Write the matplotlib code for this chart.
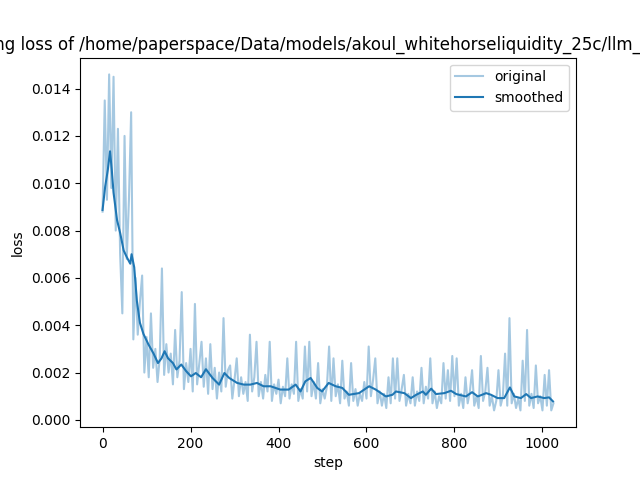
import matplotlib
matplotlib.use("Agg")
import matplotlib.pyplot as plt

save_dir = "/home/paperspace/Data/models/akoul_whitehorseliquidity_25c/llm_outputs"

# raw loss, read every 5 steps
orig_step = list(range(0, 1030, 5))
orig_loss = [
    0.0088, 0.0135, 0.0093, 0.0146, 0.0098, 0.0145, 0.0080, 0.0123, 0.0070, 0.0045,
    0.0120, 0.0068, 0.0093, 0.0130, 0.0034, 0.0060, 0.0036, 0.0050, 0.0061, 0.0020,
    0.0035, 0.0018, 0.0045, 0.0022, 0.0030, 0.0016, 0.0026, 0.0064, 0.0019, 0.0032,
    0.0020, 0.0028, 0.0015, 0.0038, 0.0018, 0.0025, 0.0054, 0.0013, 0.0024, 0.0016,
    0.0030, 0.0012, 0.0049, 0.0015, 0.0024, 0.0033, 0.0014, 0.0026, 0.0011, 0.0032,
    0.0013, 0.0022, 0.0009, 0.0020, 0.0012, 0.0043, 0.0014, 0.0021, 0.0023, 0.0009,
    0.0017, 0.0026, 0.0010, 0.0018, 0.0011, 0.0016, 0.0008, 0.0036, 0.0012, 0.0018,
    0.0033, 0.0010, 0.0016, 0.0009, 0.0019, 0.0012, 0.0033, 0.0008, 0.0015, 0.0011,
    0.0017, 0.0007, 0.0014, 0.0010, 0.0026, 0.0009, 0.0015, 0.0011, 0.0033, 0.0008,
    0.0013, 0.0009, 0.0031, 0.0012, 0.0033, 0.0010, 0.0016, 0.0009, 0.0024, 0.0007,
    0.0013, 0.0009, 0.0014, 0.0031, 0.0008, 0.0026, 0.0010, 0.0015, 0.0007, 0.0025,
    0.0009, 0.0012, 0.0006, 0.0024, 0.0008, 0.0013, 0.0006, 0.0011, 0.0008, 0.0016,
    0.0009, 0.0031, 0.0010, 0.0017, 0.0026, 0.0007, 0.0012, 0.0006, 0.0011, 0.0005,
    0.0018, 0.0007, 0.0026, 0.0009, 0.0026, 0.0008, 0.0013, 0.0019, 0.0006, 0.0011,
    0.0007, 0.0018, 0.0006, 0.0012, 0.0008, 0.0022, 0.0007, 0.0014, 0.0009, 0.0026,
    0.0007, 0.0012, 0.0005, 0.0010, 0.0007, 0.0024, 0.0009, 0.0021, 0.0008, 0.0027,
    0.0010, 0.0026, 0.0006, 0.0011, 0.0005, 0.0018, 0.0007, 0.0012, 0.0021, 0.0006,
    0.0010, 0.0005, 0.0027, 0.0008, 0.0012, 0.0022, 0.0006, 0.0010, 0.0004, 0.0008,
    0.0021, 0.0006, 0.0010, 0.0028, 0.0006, 0.0043, 0.0007, 0.0011, 0.0005, 0.0009,
    0.0004, 0.0025, 0.0008, 0.0038, 0.0006, 0.0011, 0.0005, 0.0023, 0.0007, 0.0010,
    0.0004, 0.0019, 0.0006, 0.0021, 0.0004, 0.0007,
]

# smoothed curve
smooth_step = [0, 6, 12, 17, 21, 25, 33, 40, 48, 55, 63, 66, 72, 78, 85, 93, 104, 116,
               126, 134, 141, 149, 160, 168, 179, 190, 201, 212, 224, 235, 250, 265,
               277, 288, 306, 321, 336, 351, 366, 382, 404, 423, 439, 450, 461, 473,
               488, 499, 514, 530, 545, 560, 583, 606, 621, 644, 659, 667, 686, 701,
               713, 728, 735, 747, 758, 777, 792, 804, 826, 840, 853, 872, 883, 898,
               913, 926, 936, 951, 963, 974, 989, 1004, 1015, 1024]
smooth_loss = [0.00887, 0.00986, 0.01057, 0.01135, 0.01057, 0.0096, 0.00844, 0.0079,
               0.00716, 0.00688, 0.0066, 0.0070, 0.00645, 0.00503, 0.0041, 0.00363,
               0.0032, 0.0028, 0.0024, 0.0026, 0.0029, 0.0026, 0.0024, 0.00213, 0.00234,
               0.00206, 0.00184, 0.00198, 0.0018, 0.00214, 0.00177, 0.00149, 0.00198,
               0.00177, 0.00156, 0.00149, 0.00149, 0.00156, 0.00142, 0.00142, 0.00128,
               0.00128, 0.00149, 0.0012, 0.00163, 0.00177, 0.00135, 0.0012, 0.00156,
               0.00142, 0.00135, 0.00106, 0.00113, 0.00142, 0.00128, 0.00099, 0.00106,
               0.0012, 0.00113, 0.00092, 0.00106, 0.0012, 0.00106, 0.00132, 0.00109,
               0.00113, 0.00123, 0.00109, 0.00099, 0.00117, 0.00099, 0.00113, 0.00106,
               0.00092, 0.00092, 0.00137, 0.00099, 0.00092, 0.00109, 0.00092, 0.00099,
               0.00092, 0.00095, 0.00078]

plt.figure(figsize=(6.4, 4.8))
plt.plot(orig_step, orig_loss, color="#1f77b4", alpha=0.4, label="original")
plt.plot(smooth_step, smooth_loss, color="#1f77b4", label="smoothed")
plt.title("training loss of {}".format(save_dir))
plt.xlabel("step")
plt.ylabel("loss")
plt.legend()
plt.savefig("out.png", dpi=100)
